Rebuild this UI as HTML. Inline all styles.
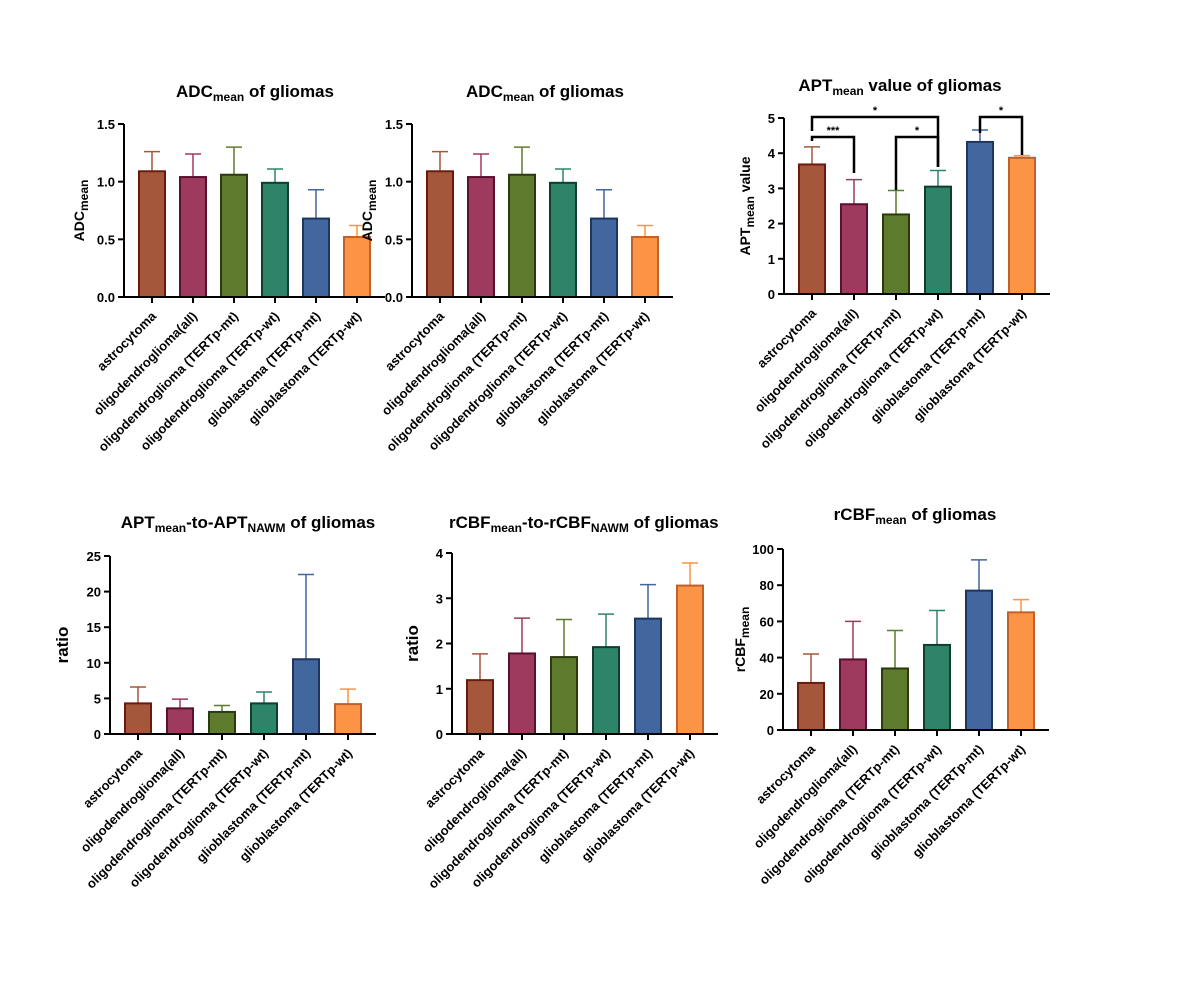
<!DOCTYPE html>
<html><head><meta charset="utf-8"><style>
body{margin:0;background:#fff}
svg{font-family:"Liberation Sans",Arial,sans-serif;font-weight:bold}
</style></head><body>
<svg id="c" width="1200" height="1000" xmlns="http://www.w3.org/2000/svg"></svg>
<script>
const categories=["astrocytoma","oligodendroglioma(all)","oligodendroglioma (TERTp-mt)","oligodendroglioma (TERTp-wt)","glioblastoma (TERTp-mt)","glioblastoma (TERTp-wt)"];
const adcMeans=[1.09,1.04,1.06,0.99,0.68,0.52];
const adcTops=[1.26,1.24,1.30,1.11,0.93,0.62];
const aptMeans=[3.68,2.55,2.26,3.05,4.32,3.87];
const aptTops=[4.18,3.25,2.94,3.51,4.66,3.93];
const aptRatioMeans=[4.3,3.6,3.1,4.3,10.5,4.2];
const aptRatioTops=[6.6,4.9,4.0,5.9,22.4,6.3];
const cbfRatioMeans=[1.19,1.78,1.70,1.92,2.55,3.28];
const cbfRatioTops=[1.77,2.56,2.53,2.65,3.30,3.78];
const cbfMeans=[26,39,34,47,77,65];
const cbfTops=[42,60,55,66,94,72];
const adcTicks=["0.0","0.5","1.0","1.5"];
const aptTicks=["0","1","2","3","4","5"];
const aptRatioTicks=["0","5","10","15","20","25"];
const cbfRatioTicks=["0","1","2","3","4"];
const cbfTicks=["0","20","40","60","80","100"];
const fills=["#a5573c","#9e3a5e","#5e7a2c","#2e8468","#41679e","#fb9444"];
const strokes=["#6b1a0e","#5a1030","#2c3a10","#0f3d2e","#1e3560","#c0602a"];
const NS="http://www.w3.org/2000/svg";
const svg=document.getElementById('c');
function mk(t,a,p){const e=document.createElementNS(NS,t);for(const k in a)e.setAttribute(k,a[k]);(p||svg).appendChild(e);return e;}
function panel(o){
  const g=mk('g',{});
  
  
  const max=parseFloat(o.ticks[o.ticks.length-1]);
  const y=v=>o.y0-(v/max)*(o.y0-o.yTop);
  const x=i=>o.ax+28+i*o.step;
  const t=mk('text',{x:o.tx,y:o.ty,'text-anchor':o.anchor||'middle','font-size':17},g);
  
  
  t.innerHTML=o.title;
  const yl=mk('text',{x:0,y:0,'text-anchor':'middle','font-size':o.ylSize||14,transform:`translate(${o.ax-(o.ylOff||40)},${(o.y0+o.yTop)/2}) rotate(-90)`},g);
  
  
  yl.innerHTML=o.ylabel;
  categories.forEach((c,i)=>{
    const cx=x(i),w=26;
    const eb=mk('path',{d:`M${cx},${y(o.means[i])}V${y(o.tops[i])}M${cx-8},${y(o.tops[i])}H${cx+8}`,stroke:fills[i],'stroke-width':1.5,fill:'none'},g);
    
    
    const b=mk('rect',{x:cx-w/2,y:y(o.means[i]),width:w,height:o.y0-y(o.means[i]),fill:fills[i],stroke:strokes[i],'stroke-width':2},g);
    
    
    mk('line',{x1:cx,x2:cx,y1:o.y0,y2:o.y0+6,stroke:'#000','stroke-width':2},g);
    const l=mk('text',{x:0,y:0,'text-anchor':'end','font-size':13,transform:`translate(${cx+5},${o.y0+20}) rotate(-45)`},g);
    
    
    l.textContent=c;
  });
  const ax=mk('path',{d:`M${o.ax},${o.yTop}V${o.y0}H${x(5)+28}`,stroke:'#000','stroke-width':2,fill:'none'},g);
  
  
  o.ticks.forEach(tk=>{
    const yy=y(parseFloat(tk));
    mk('line',{x1:o.ax-6,x2:o.ax,y1:yy,y2:yy,stroke:'#000','stroke-width':2},g);
    const tt=mk('text',{x:o.ax-9,y:yy+5,'text-anchor':'end','font-size':13},g);
    
    
    tt.textContent=tk;
  });
  return {g,x,y};
}
const sub=s=>`<tspan font-size="12" dy="4">${s}</tspan><tspan dy="-4">`;
const adcTitle=`ADC${sub('mean')} of gliomas</tspan>`;
const adcY=`ADC${sub('mean')}</tspan>`;
panel({name:'adc-chart-1',ax:124,y0:297,yTop:124,step:41,ticks:adcTicks,means:adcMeans,tops:adcTops,title:adcTitle,tx:255,ty:97,ylabel:adcY});
panel({name:'adc-chart-2',ax:412,y0:297,yTop:124,step:41,ticks:adcTicks,means:adcMeans,tops:adcTops,title:adcTitle,tx:545,ty:97,ylabel:adcY});
const p3=panel({name:'apt-chart',ax:784,y0:294,yTop:118,step:42,ticks:aptTicks,means:aptMeans,tops:aptTops,title:`APT${sub('mean')} value of gliomas</tspan>`,tx:900,ty:91,ylabel:`APT${sub('mean')} value</tspan>`,ylOff:34});
panel({name:'apt-ratio-chart',ax:110,y0:734,yTop:556,step:42,ticks:aptRatioTicks,means:aptRatioMeans,tops:aptRatioTops,title:`APT${sub('mean')}-to-APT${sub('NAWM')} of gliomas</tspan></tspan>`,tx:248,ty:528,ylabel:'ratio',ylSize:17,ylOff:42});
panel({name:'rcbf-ratio-chart',ax:452,y0:734,yTop:553,step:42,ticks:cbfRatioTicks,means:cbfRatioMeans,tops:cbfRatioTops,title:`rCBF${sub('mean')}-to-rCBF${sub('NAWM')} of gliomas</tspan></tspan>`,tx:449,ty:528,anchor:'start',ylabel:'ratio',ylSize:17,ylOff:34});
mk('rect',{x:731,y:505,width:40,height:35,fill:'#fff'});
panel({name:'rcbf-chart',ax:783,y0:730,yTop:549,step:42,ticks:cbfTicks,means:cbfMeans,tops:cbfTops,title:`rCBF${sub('mean')} of gliomas</tspan>`,tx:915,ty:520,ylabel:`rCBF${sub('mean')}</tspan>`,ylOff:38});
const br=[[0,3,117,131,167,'*'],[0,1,137,141,173,'***'],[2,3,137,190,167,'*'],[4,5,117,133,155,'*']];
br.forEach(b=>{
  const x1=p3.x(b[0]),x2=p3.x(b[1]);
  const p=mk('path',{d:`M${x1},${b[3]}V${b[2]}H${x2}V${b[4]}`,stroke:'#000','stroke-width':2.5,fill:'none'});
  
  
  const s=mk('text',{x:(x1+x2)/2,y:b[2]-3,'text-anchor':'middle','font-size':11});
  
  
  s.textContent=b[5];
});
</script>
</body></html>
